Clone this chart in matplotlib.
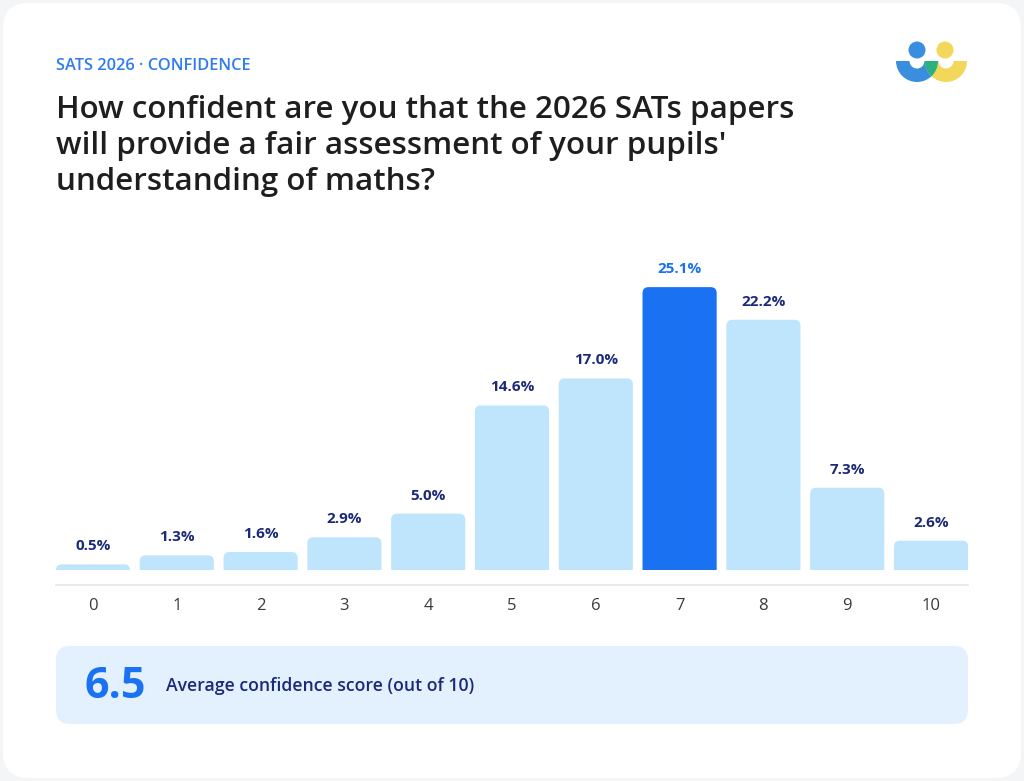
import matplotlib
matplotlib.use("Agg")
import matplotlib.pyplot as plt
from matplotlib.patches import FancyBboxPatch, Wedge, Circle
from matplotlib.lines import Line2D

plt.rcParams['font.family'] = ['Open Sans', 'DejaVu Sans']

# ---- data ----
scores = ["0", "1", "2", "3", "4", "5", "6", "7", "8", "9", "10"]
shares = [0.5, 1.3, 1.6, 2.9, 5.0, 14.6, 17.0, 25.1, 22.2, 7.3, 2.6]
highlight = "7"
avg_score = 6.5
kicker = "SATS 2026 · CONFIDENCE"
title = ("How confident are you that the 2026 SATs papers\n"
         "will provide a fair assessment of your pupils'\n"
         "understanding of maths?")
avg_label = "Average confidence score (out of 10)"

W, H = 1024, 781
LIGHT, DARK = "#bfe5fd", "#1a72f2"
NAVY = "#1b2a78"

fig = plt.figure(figsize=(W / 100, H / 100), dpi=100)
fig.patch.set_facecolor("#f4f5f7")

def fx(px): return px / W
def fy(py): return 1 - py / H

# white card
card = FancyBboxPatch((fx(3), fy(778)), fx(1018), 1 - 6 / H,
                      boxstyle="round,pad=0,rounding_size=0.025",
                      mutation_aspect=W / H, transform=fig.transFigure,
                      fc="white", ec="none", zorder=-10)
fig.patches.append(card)

fig.text(fx(56), fy(66), kicker, color="#2f7cf0", fontsize=11.8,
         fontweight="semibold", va="center", ha="left")
fig.text(fx(56), fy(95), title, color="#1e1e1e", fontsize=22.6,
         fontweight="semibold", va="top", ha="left", linespacing=1.255,
         multialignment="left")

# ---- bars ----
px_per_unit = 11.27
slot = 83.8
top_px = 250
ax = fig.add_axes([fx(56), fy(570), fx(968 - 56), (570 - top_px) / H])
ax.set_xlim(-0.4415, len(scores) - 1 + 0.4415)
ax.set_ylim(0, (570 - top_px) / px_per_unit)
ax.axis("off")

bw = 0.885
rx = 6 / slot
aspect = (6 / px_per_unit) / rx
for i, (s, v) in enumerate(zip(scores, shares)):
    hi = s == highlight
    p = FancyBboxPatch((i - bw / 2, -3), bw, v + 3,
                       boxstyle=f"round,pad=0,rounding_size={rx}",
                       mutation_aspect=aspect, fc=DARK if hi else LIGHT,
                       ec="none", clip_on=True)
    ax.add_patch(p)
    ax.annotate(f"{v:.1f}%", (i, v), xytext=(0, 11), textcoords="offset pixels",
                ha="center", va="bottom", fontsize=11, fontweight="bold",
                color=DARK if hi else NAVY)
    ax.annotate(s, (i, 0), xytext=(0, -36), textcoords="offset pixels",
                ha="center", va="center", fontsize=12, color="#3a3a3a",
                annotation_clip=False)

fig.add_artist(Line2D([fx(56), fx(968)], [fy(585), fy(585)], color="#e3e5ea",
                      lw=1.2, transform=fig.transFigure))

# ---- summary box ----
box = FancyBboxPatch((fx(56), fy(724)), fx(912), 78 / H,
                     boxstyle="round,pad=0,rounding_size=0.014",
                     mutation_aspect=W / H, transform=fig.transFigure,
                     fc="#e3f0fd", ec="none", zorder=-5)
fig.patches.append(box)
fig.text(fx(84), fy(686), f"{avg_score:.1f}", color=DARK, fontsize=31,
         fontweight="bold", va="center", ha="left")
fig.text(fx(166), fy(686), avg_label, color=NAVY, fontsize=12.7,
         fontweight="semibold", va="center", ha="left")

# ---- logo ----
lax = fig.add_axes([fx(890), fy(90), fx(85), 60 / H])
lax.set_xlim(890, 975)
lax.set_ylim(90, 30)
lax.set_aspect("equal")
lax.axis("off")
blue, yellow, green = "#3a8ee0", "#f2d75a", "#2bb07f"
lax.add_patch(Circle((917, 50), 8.5, color=blue, lw=0))
lax.add_patch(Circle((945, 50), 8.5, color=yellow, lw=0))
wb = Wedge((917, 61), 21, 0, 180, width=13.5, color=blue, lw=0)
wy = Wedge((946, 61), 21, 0, 180, width=13.5, color=yellow, lw=0)
lax.add_patch(wb)
lax.add_patch(wy)
wg = Wedge((946, 61), 21, 0, 180, width=13.5, color=green, lw=0)
lax.add_patch(wg)
wg.set_clip_path(wb)

fig.savefig("out.png", dpi=100, facecolor=fig.get_facecolor())
